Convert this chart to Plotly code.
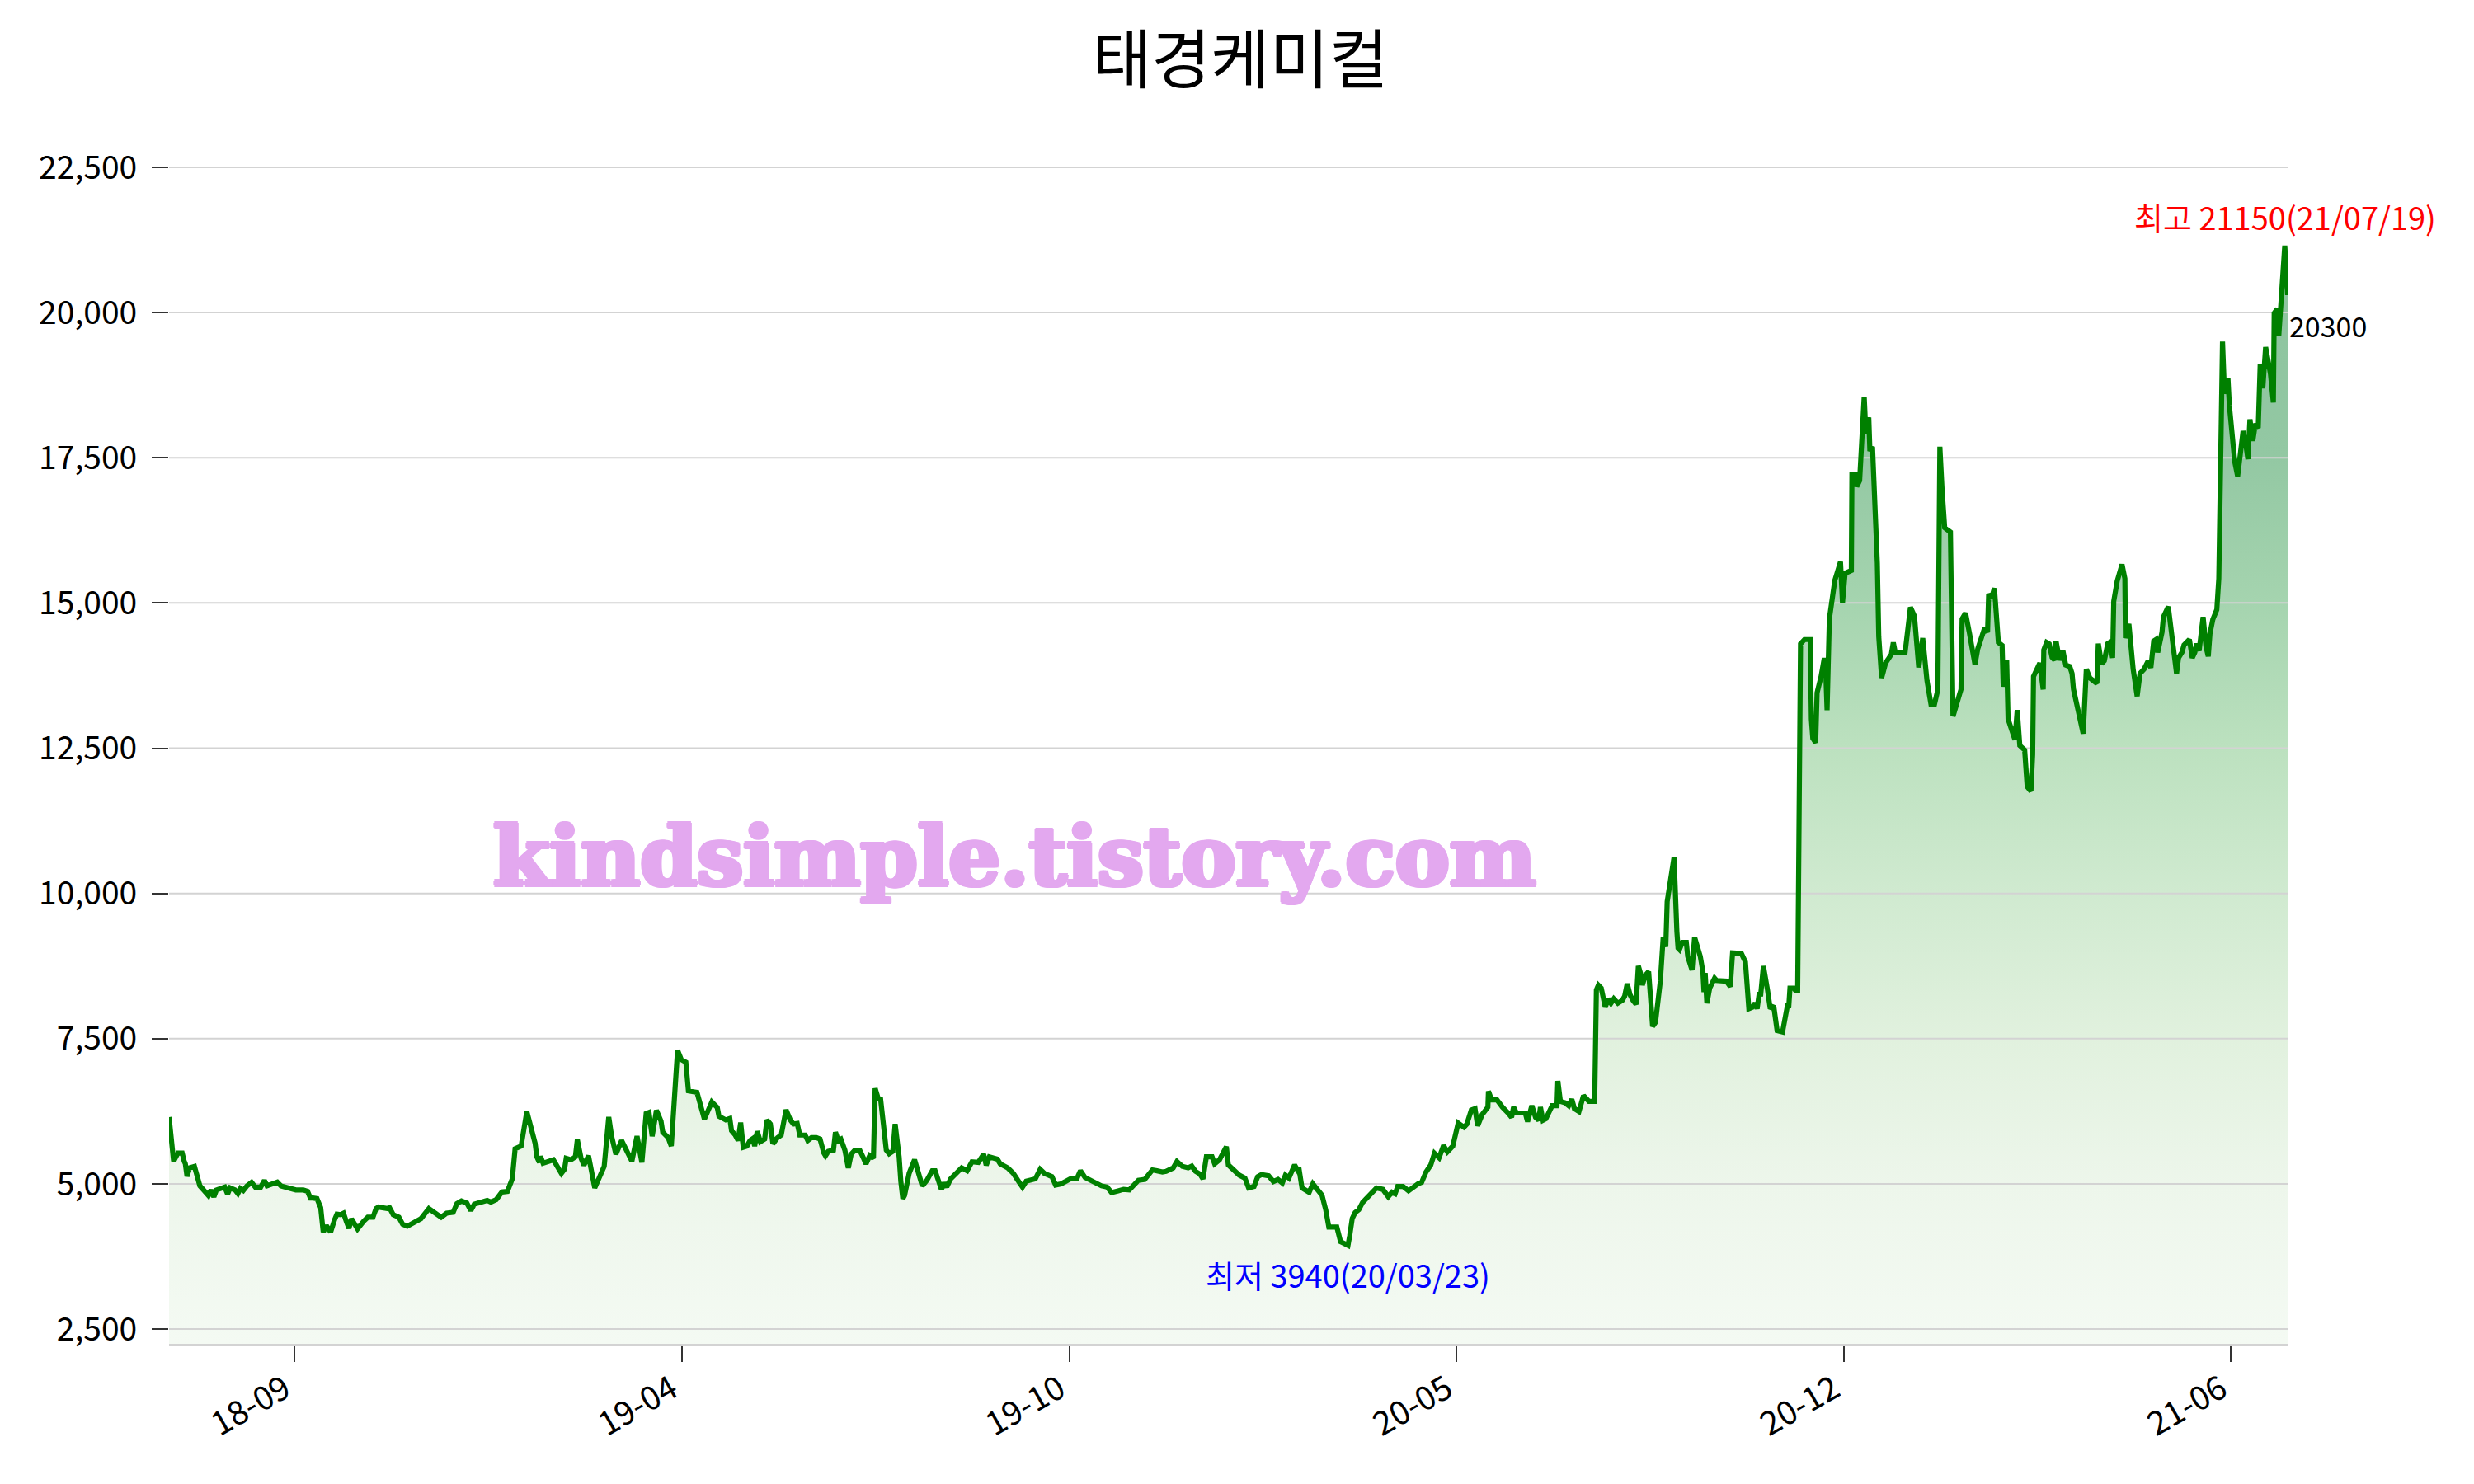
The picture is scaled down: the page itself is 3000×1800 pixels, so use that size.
import numpy as np
import plotly.graph_objects as go

# ---- data: trading-day index (0 = first day shown) and closing price ----
day_a = [0, 0.8, 1.6, 3.1, 4.6, 5.3, 5.7, 6.3, 7.2, 8.9,
         9.8, 10.8, 12.1, 13.8, 14.7, 15.7, 16.6, 18.6, 19.5, 20.5,
         21.4, 23.1, 24.1, 25.0, 26.0, 27.3, 28.9, 30.2, 32.1, 33.4,
         34.3, 37.9, 39.2, 44.4, 47.0, 48.5, 49.5, 50.4, 51.8, 53.1,
         54.0, 55.1, 56.6, 57.9, 58.8, 60.1, 61.1, 62.1, 63.0, 63.9,
         66.0, 68.2, 69.6, 71.4, 72.5, 73.4, 76.3, 77.2, 78.5, 80.5,
         81.8, 83.4, 85.6, 88.2, 91.0, 92.7, 95.3, 97.2, 99.5, 100.8,
         102.4, 104.3, 105.7, 106.9, 111.4, 112.7, 114.6, 116.6, 118.5, 120.2,
         121.2, 123.3, 125.3, 128.2, 128.8, 129.7, 130.1, 131.0, 134.6, 137.4,
         138.5, 139.1, 140.8, 142.3, 143.0, 144.3, 145.3, 146.9, 149.1, 152.4,
         154.0, 155.0, 156.5, 158.5, 159.8, 162.1, 163.9, 165.6, 167.1, 168.1,
         169.2, 170.7, 172.3, 172.9, 174.8, 175.9, 178.1, 179.4, 181.0, 181.9,
         184.9, 185.8, 186.8, 187.5, 190.1, 192.0, 192.6, 195.0]
close_a = [6150, 5630, 5390, 5530, 5530, 5390, 5345, 5130, 5275, 5300,
           5110, 4965, 4895, 4800, 4895, 4775, 4895, 4920, 4945, 4825,
           4930, 4895, 4835, 4920, 4885, 4965, 5025, 4945, 4945, 5060,
           4965, 5030, 4965, 4895, 4895, 4870, 4755, 4755, 4745, 4590,
           4170, 4280, 4170, 4375, 4480, 4470, 4495, 4350, 4235, 4400,
           4225, 4360, 4425, 4425, 4575, 4600, 4575, 4590, 4470, 4425,
           4305, 4270, 4335, 4400, 4575, 4505, 4425, 4495, 4510, 4660,
           4705, 4670, 4540, 4650, 4715, 4685, 4730, 4860, 4870, 5085,
           5605, 5650, 6245, 5700, 5465, 5370, 5475, 5355, 5415, 5180,
           5250, 5440, 5415, 5465, 5760, 5440, 5320, 5485, 4930, 5300,
           6150, 5820, 5510, 5745, 5605, 5390, 5820, 5370, 6210, 6230,
           5820, 6265, 6080, 5890, 5795, 5650, 7300, 7140, 7095, 6600,
           6575, 6385, 6265, 6115, 6410, 6315, 6165, 6100]

day_b = [196.4, 197.0, 198.3, 199.3, 200.2, 201.1, 202.4, 203.5, 204.5, 205.1,
         206.0, 207.1, 208.6, 209.4, 210.6, 211.5, 213.1, 214.4, 216.1, 217.6,
         218.7, 220.0, 220.9, 222.8, 223.7, 225.0, 226.7, 228.0, 229.3, 229.9,
         230.9, 232.7, 233.4, 234.4, 235.3, 236.7, 237.9, 238.9, 240.2, 241.9,
         243.0, 244.1, 245.4, 246.7, 247.3, 248.3, 249.2, 250.1, 251.2, 252.2,
         253.5, 254.3, 255.7, 256.3, 257.0, 257.6, 259.2, 261.1, 262.5, 263.8,
         265.4, 267.3, 268.3, 269.2, 270.5, 271.5, 272.4, 273.7, 275.7, 277.6,
         279.5, 281.2, 283.4, 285.3, 286.2, 287.3, 290.1, 291.1, 293.7, 295.7,
         297.3, 298.9, 300.2, 303.4, 305.1, 306.6, 309.2, 310.5, 312.4, 314.4,
         315.6, 318.0, 319.2, 320.8, 323.4, 326.6, 328.5, 330.1, 332.4, 334.3,
         336.3, 337.6, 339.5, 341.7, 344.4, 346.0, 347.9, 349.2, 351.7, 353.0,
         354.9, 356.9, 358.2, 359.5, 361.0, 362.1, 363.3, 365.3, 366.2, 367.9]
close_b = [6125, 5915, 5840, 5745, 6055, 5630, 5650, 5745, 5780, 5650,
           5905, 5725, 5770, 6100, 6030, 5690, 5795, 5840, 6275, 6100,
           6030, 6040, 5840, 5840, 5745, 5795, 5795, 5770, 5535, 5485,
           5560, 5580, 5890, 5745, 5770, 5580, 5275, 5510, 5580, 5580,
           5465, 5345, 5485, 5440, 6645, 6480, 6465, 6030, 5580, 5520,
           5560, 6030, 5465, 5040, 4745, 4800, 5180, 5415, 5180, 4965,
           5060, 5225, 5225, 5085, 4905, 5015, 4945, 5085, 5190, 5275,
           5225, 5380, 5370, 5510, 5320, 5465, 5425, 5345, 5275, 5180,
           5060, 4945, 5045, 5085, 5250, 5180, 5125, 4980, 5000, 5040,
           5085, 5095, 5225, 5110, 5040, 4965, 4945, 4850, 4880, 4905,
           4895, 4955, 5060, 5075, 5240, 5225, 5205, 5215, 5275, 5385,
           5300, 5275, 5305, 5215, 5170, 5085, 5465, 5465, 5345, 5415]

day_c = [370.3, 371.0, 372.9, 374.8, 376.8, 378.1, 380.0, 381.3, 382.6, 385.1,
         386.8, 388.4, 389.9, 391.0, 392.2, 394.2, 395.2, 395.7, 396.8, 399.3,
         400.6, 402.6, 403.8, 405.1, 406.2, 409.0, 409.6, 410.3, 411.3, 412.9,
         413.5, 414.4, 415.4, 416.7, 418.0, 419.3, 420.3, 422.9, 425.1, 427.0,
         428.3, 429.4, 430.3, 432.2, 434.1, 435.8, 437.4, 438.7, 440.2, 441.9,
         443.2, 444.8, 446.4, 447.7, 449.6, 451.5, 453.5, 454.5, 456.1, 457.4,
         458.3, 459.9, 461.9, 462.1, 463.2, 465.1, 466.0, 467.0, 469.0, 470.2,
         470.9, 471.9, 475.0, 475.8, 477.3, 478.6, 479.7, 480.3, 481.2, 482.2,
         484.4, 486.1, 486.4, 487.3, 488.9, 490.2, 491.3, 492.2, 493.8, 495.4,
         497.3, 499.3]
close_c = [5640, 5325, 5240, 5150, 5100, 4930, 4955, 5125, 5160, 5140,
           5040, 5075, 5015, 5150, 5100, 5325, 5240, 5275, 4930, 4855,
           5000, 4880, 4805, 4555, 4255, 4255, 4155, 4005, 3980, 3940,
           4105, 4405, 4505, 4555, 4680, 4755, 4805, 4930, 4905, 4780,
           4855, 4830, 4955, 4955, 4880, 4955, 5000, 5025, 5200, 5325,
           5525, 5450, 5660, 5550, 5650, 6045, 5975, 6025, 6270, 6295,
           6000, 6195, 6320, 6595, 6445, 6445, 6370, 6320, 6220, 6145,
           6320, 6220, 6220, 6070, 6345, 6145, 6095, 6320, 6095, 6120,
           6345, 6345, 6770, 6420, 6395, 6345, 6455, 6295, 6245, 6520,
           6420, 6420]

day_d = [499.9, 500.6, 501.6, 503.0, 504.0, 505.0, 506.0, 507.4, 509.0, 509.8,
         510.7, 511.7, 512.7, 513.8, 514.6, 515.6, 516.0, 517.0, 518.2, 519.6,
         520.6, 522.3, 523.3, 524.2, 524.7, 527.1, 528.1, 528.5, 529.0, 530.0,
         531.4, 531.9, 533.4, 534.3, 536.3, 537.2, 537.6, 538.0, 538.6, 539.6,
         541.3, 542.0, 545.4, 546.8, 547.6, 550.7, 552.1, 553.3, 554.5, 555.5,
         556.2, 557.0, 557.4, 558.4, 559.8, 560.8, 562.0, 562.7, 563.2, 565.1,
         566.1, 566.8, 567.3, 567.7, 569.0, 569.7, 570.4, 570.9]
close_d = [8340, 8420, 8370, 8040, 8185, 8110, 8185, 8110, 8160, 8230,
           8445, 8255, 8160, 8090, 8750, 8585, 8420, 8585, 8655, 7710,
           7780, 8490, 9245, 9080, 9860, 10620, 9340, 9060, 9035, 9155,
           9155, 8915, 8680, 9245, 8915, 8655, 8300, 8630, 8110, 8370,
           8540, 8500, 8490, 8395, 8975, 8965, 8820, 8015, 8040, 8110,
           8015, 8300, 8230, 8750, 8350, 8015, 8065, 7875, 7640, 7615,
           7875, 8065, 8065, 8370, 8370, 8325, 8325, 10950]

day_e = [571.4, 572.8, 574.8, 575.2, 575.7, 576.7, 577.2, 578.6, 579.6, 580.1,
         580.7, 581.5, 583.4, 585.4, 586.1, 587.0, 589.2, 589.4, 590.6, 591.1,
         592.1, 593.7, 594.3, 595.3, 595.7, 596.6, 598.3, 598.8, 599.8, 601.2,
         603.2, 603.9, 604.6, 608.0, 609.9, 611.3, 612.8, 614.2, 615.7, 617.1,
         618.3, 619.5, 620.2, 621.0, 621.9, 623.2, 623.9, 624.8, 625.8, 627.6,
         628.0, 629.2, 630.6, 632.5, 633.5, 635.9, 636.9, 637.3, 638.3, 639.3,
         640.7, 642.0, 642.4, 643.6, 644.1, 646.5, 647.3, 648.2, 649.9, 650.8,
         652.1, 652.7, 653.0, 655.2, 656.4, 656.6, 657.6, 658.5, 659.5, 660.4,
         660.9, 662.1]
close_e = [14295, 14370, 14370, 13000, 12670, 12595, 13455, 13735, 14015, 14015,
           13155, 14725, 15385, 15710, 15005, 15510, 15560, 17205, 17205, 17005,
           17105, 18550, 17915, 18195, 17615, 17690, 15685, 14420, 13710, 13965,
           14115, 14320, 14140, 14140, 14925, 14775, 13890, 14395, 13660, 13255,
           13255, 13510, 17690, 16930, 16295, 16245, 16220, 13050, 13205, 13510,
           14725, 14825, 14470, 13940, 14215, 14570, 14495, 15155, 15080, 15255,
           14320, 14270, 13560, 14015, 13000, 12645, 13155, 12545, 12470, 11835,
           11760, 12390, 13735, 13965, 13510, 14190, 14320, 14295, 14065, 14015,
           14345, 14015]

day_f = [663.3, 664.3, 665.7, 666.5, 667.0, 669.1, 670.4, 671.5, 672.7, 675.2,
         675.7, 676.8, 677.8, 679.0, 679.7, 680.7, 681.1, 682.3, 684.0, 685.0,
         685.2, 686.4, 687.9, 689.3, 690.3, 691.7, 693.2, 694.1, 695.1, 695.9,
         696.5, 698.0, 698.5, 700.2, 701.6, 703.1, 703.8, 705.0, 705.7, 707.6,
         708.6, 709.5, 710.2, 711.0, 712.4, 713.4, 714.2, 714.8, 715.8, 717.2,
         717.9, 718.4, 718.7, 719.2, 719.9, 721.1, 721.6, 722.4, 723.5, 724.5,
         725.4, 726.4, 727.4, 728.1, 728.8, 729.8, 730.7, 731.7, 732.4, 733.3,
         734.3, 736.0, 737.0, 737.3, 738.4, 738.9, 741.0, 742.0]
close_f = [14175, 13930, 13905, 13785, 13515, 13075, 12750, 13860, 13710, 13615,
           14300, 13955, 14005, 14300, 14320, 14055, 15030, 15375, 15665, 15420,
           14395, 14640, 13860, 13395, 13785, 13860, 14005, 13885, 14345, 14370,
           14150, 14495, 14760, 14935, 14345, 13785, 14055, 14150, 14275, 14370,
           14055, 14150, 14300, 14175, 14760, 14250, 14080, 14470, 14715, 14885,
           15420, 17130, 19185, 19500, 18600, 18865, 18400, 17915, 17425, 17180,
           17525, 17960, 17720, 17475, 18160, 17790, 18085, 18010, 19110, 18695,
           19405, 18940, 18450, 19990, 20065, 19600, 21150, 20300]

tick_days = [44, 179.6, 315.3, 451, 586.6, 722.2]
tick_labels = ["18-09", "19-04", "19-10", "20-05", "20-12", "21-06"]

title_text = "태경케미컬"
max_date = "21/07/19"
min_date = "20/03/23"
watermark = "kindsimple.tistory.com"

# fill colours at given price levels
fill_levels = [2246, 5000, 7500, 10000, 12500, 15000, 17500, 21150]
fill_colors = ["rgb(244,250,243)", "rgb(237,246,235)", "rgb(225,241,222)",
               "rgb(208,234,208)", "rgb(188,225,191)", "rgb(165,212,175)",
               "rgb(147,200,163)", "rgb(140,195,158)"]

# ---- build ----
day = np.array(day_a + day_b + day_c + day_d + day_e + day_f, dtype=float)
close = np.array(close_a + close_b + close_c + close_d + close_e + close_f, dtype=float)

i_max = int(np.argmax(close))
i_min = int(np.argmin(close))
v_max = close[i_max]
v_min = close[i_min]
y_lo = v_min * 0.57
y_hi = v_max * 1.1
DTICK = 2500

g0, g1 = fill_levels[0], fill_levels[-1]
colorscale = [[(lv - g0) / (g1 - g0), c] for lv, c in zip(fill_levels, fill_colors)]

FONT = "Noto Sans CJK KR, Noto Sans, sans-serif"
WM_COLOR = "rgb(227,168,239)"
wm_shadow = ", ".join(f"{dx}px {dy}px 0 {WM_COLOR}" for dx, dy in
                      [(2, 0), (-2, 0), (0, 2), (0, -2), (2, 2), (-2, -2), (2, -2), (-2, 2),
                       (3, 0), (-3, 0)])

W, H = 2992, 1792  # page body keeps an 8px margin in the 3000x1800 window

fig = go.Figure()
# 1) gradient area under the price line
fig.add_trace(go.Scatter(
    x=day, y=close, mode="none",
    fill="tozeroy",
    fillgradient=dict(type="vertical", colorscale=colorscale, start=g0, stop=g1),
    hoverinfo="skip", showlegend=False,
))
# 2) horizontal grid lines drawn over the area but under the line
grid_vals = np.arange(np.ceil(y_lo / DTICK) * DTICK, y_hi, DTICK)
gx, gy = [], []
for gv in grid_vals:
    gx += [day[0], day[-1], None]
    gy += [gv, gv, None]
fig.add_trace(go.Scatter(x=gx, y=gy, mode="lines",
                         line=dict(color="#d3d3d3", width=2),
                         hoverinfo="skip", showlegend=False))
# 3) price line
fig.add_trace(go.Scatter(
    x=day, y=close, mode="lines",
    line=dict(color="#008000", width=6.2),
    hoverinfo="skip", showlegend=False,
))

fig.add_annotation(x=day[i_max], y=v_max, xref="x", yref="y",
                   text=f"최고 {int(v_max)}({max_date})", showarrow=False,
                   xanchor="center", yanchor="bottom", yshift=6,
                   font=dict(family=FONT, size=38, color="red"))
fig.add_annotation(x=day[i_min], y=v_min, xref="x", yref="y",
                   text=f"최저 {int(v_min)}({min_date})", showarrow=False,
                   xanchor="center", yanchor="top", yshift=-5,
                   font=dict(family=FONT, size=38, color="blue"))
fig.add_annotation(x=day[-1], y=close[-1], xref="x", yref="y",
                   text=f"{int(close[-1])}", showarrow=False,
                   xanchor="left", yanchor="top", yshift=-10,
                   font=dict(family=FONT, size=34, color="black"))
fig.add_annotation(x=0.399, y=0.399, xref="paper", yref="paper",
                   text=watermark, showarrow=False,
                   xanchor="center", yanchor="middle",
                   font=dict(family="DejaVu Serif", size=99, color=WM_COLOR,
                             weight="bold", shadow=wm_shadow))

fig.update_layout(
    width=W, height=H,
    paper_bgcolor="white", plot_bgcolor="white",
    margin=dict(l=197, r=226, t=141, b=170, autoexpand=False),
    title=dict(text=title_text, x=0.5, xref="container", xanchor="center",
               y=1 - 66 / H, yref="container", yanchor="middle",
               font=dict(family=FONT, size=78, color="black")),
    font=dict(family=FONT, color="black"),
    showlegend=False,
)
fig.update_xaxes(
    range=[day[0], day[-1]], showgrid=False, zeroline=False,
    showline=True, linecolor="#d3d3d3", linewidth=3,
    ticks="outside", ticklen=19, tickwidth=1.5, tickcolor="#333333",
    tickvals=tick_days, ticktext=tick_labels, tickangle=-30,
    ticklabelshift=-12, ticklabelstandoff=-6,
    tickfont=dict(family=FONT, size=40, color="black"), automargin=False,
)
fig.update_yaxes(
    range=[y_lo, y_hi], showgrid=False, zeroline=False, showline=False,
    tick0=0, dtick=DTICK, tickformat=",d",
    ticks="outside", ticklen=20, tickwidth=2, tickcolor="#333333",
    ticklabelstandoff=10,
    tickfont=dict(family=FONT, size=39, color="black"), automargin=False,
)

fig.write_html("out.html")
